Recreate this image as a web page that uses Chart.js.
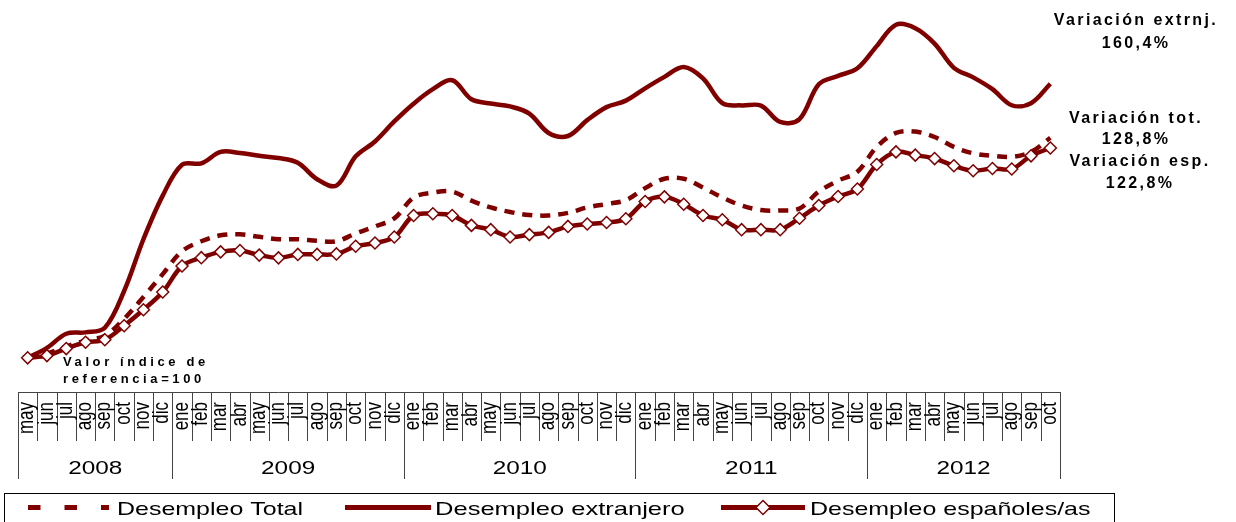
<!DOCTYPE html>
<html>
<head>
<meta charset="utf-8">
<script src="https://cdn.jsdelivr.net/npm/chart.js@4"></script>
<style>
  body { margin: 0; background: #fff; }
  #wrap { width: 1236px; height: 522px; }
</style>
</head>
<body>
<div id="wrap"><canvas id="paro" width="1236" height="522"></canvas></div>
<script>
// meses may 2008 - oct 2012
const monthLabels = [
  'may','jun','jul','ago','sep','oct','nov','dic',
  'ene','feb','mar','abr','may','jun','jul','ago','sep','oct','nov','dic',
  'ene','feb','mar','abr','may','jun','jul','ago','sep','oct','nov','dic',
  'ene','feb','mar','abr','may','jun','jul','ago','sep','oct','nov','dic',
  'ene','feb','mar','abr','may','jun','jul','ago','sep','oct'
];
const yearLabels = ['2008', '2009', '2010', '2011', '2012'];
const yearCounts = [8, 12, 12, 12, 10];

// indice base 100 = mayo 2008
const totalValues = [
  100, 102.5, 106.6, 110.1, 113.0, 122.8, 135.6, 149.0,
  162.4, 168.2, 171.7, 172.3, 170.8, 169.4, 169.4, 168.5, 168.2, 172.8, 176.9, 181.6,
  193.8, 196.7, 197.3, 192.0, 188.0, 185.3, 183.6, 183.3, 184.8, 188.0, 190.0, 192.3,
  199.3, 204.8, 204.8, 199.6, 193.8, 189.1, 186.5, 186.2, 187.4, 197.3, 203.7, 208.9,
  223.4, 231.6, 232.4, 229.2, 223.4, 219.7, 218.2, 217.6, 220.5, 228.8
];
const extranjeroValues = [
  100, 105.8, 114.1, 114.9, 117.6, 139.1, 169.4, 194.9,
  213.0, 213.8, 220.5, 219.9, 218.2, 216.9, 214.1, 204.5, 200.8, 217.9, 226.6, 238.3,
  248.7, 257.2, 262.4, 251.3, 248.8, 247.1, 242.9, 231.6, 229.8, 239.1, 246.7, 250.5,
  257.7, 264.4, 270.2, 263.5, 249.0, 247.7, 247.6, 238.0, 239.7, 260.1, 265.0, 269.4,
  282.4, 294.9, 292.9, 283.9, 269.7, 264.1, 257.2, 247.8, 249.0, 260.4
];
const espanolValues = [
  100, 101.3, 105.4, 109.1, 110.6, 118.8, 128.1, 138.5,
  153.7, 158.6, 162.0, 162.8, 160.1, 158.5, 160.5, 160.5, 160.8, 165.3, 167.2, 170.7,
  183.3, 184.3, 183.3, 177.5, 175.0, 170.7, 172.1, 173.4, 176.9, 178.3, 179.2, 181.4,
  191.5, 194.2, 189.9, 183.3, 180.8, 175.0, 175.0, 175.0, 181.7, 189.1, 194.4, 198.8,
  213.1, 220.5, 218.6, 216.6, 212.4, 209.5, 210.8, 210.5, 218.2, 222.8
];

const seriesNames = ['Desempleo Total', 'Desempleo extranjero', 'Desempleo españoles/as'];
const notes = [
  { lines: ['Variación extrnj.', '160,4%'], x: 1136, y: [25, 48] },
  { lines: ['Variación tot.', '128,8%'], x: 1136, y: [123, 144] },
  { lines: ['Variación esp.', '122,8%'], x: 1140, y: [166, 188] }
];

const RED = '#800000';
const FONT = "'Liberation Sans', Arial, sans-serif";

function stretchText(ctx, text, x, y, sx) {
  ctx.save();
  ctx.translate(x, y);
  ctx.scale(sx, 1);
  ctx.fillText(text, 0, 0);
  ctx.restore();
}

// eje de dos niveles (meses / años), notas y leyenda
const decoPlugin = {
  id: 'deco',
  afterDraw(chart) {
    const ctx = chart.ctx;
    const xs = chart.scales.x;
    const axisTop = chart.chartArea.bottom;
    const n = monthLabels.length;
    const step = (xs.right - xs.left) / n;

    ctx.save();
    ctx.strokeStyle = '#444';
    ctx.lineWidth = 1;
    ctx.beginPath();
    ctx.moveTo(xs.left, axisTop + 0.5);
    ctx.lineTo(xs.right, axisTop + 0.5);
    // separadores de meses
    for (let i = 0; i <= n; i++) {
      const bx = Math.round(xs.getPixelForValue(i) - step / 2) + 0.5;
      ctx.moveTo(bx, axisTop);
      ctx.lineTo(bx, axisTop + 49);
    }
    // separadores de años
    let idx = 0;
    const bounds = [0];
    yearCounts.forEach(c => { idx += c; bounds.push(idx); });
    bounds.forEach(b => {
      const bx = Math.round(xs.getPixelForValue(b) - step / 2) + 0.5;
      ctx.moveTo(bx, axisTop);
      ctx.lineTo(bx, axisTop + 87);
    });
    ctx.stroke();

    // etiquetas de meses (verticales)
    ctx.fillStyle = '#000';
    ctx.font = '17px ' + FONT;
    ctx.textAlign = 'right';
    ctx.textBaseline = 'middle';
    monthLabels.forEach((m, i) => {
      ctx.save();
      ctx.translate(xs.getPixelForValue(i) - 0.5, axisTop + 10);
      ctx.scale(1.3, 1);
      ctx.rotate(-Math.PI / 2);
      ctx.fillText(m, 0, 0);
      ctx.restore();
    });

    // etiquetas de años
    ctx.font = '19px ' + FONT;
    ctx.textAlign = 'center';
    ctx.textBaseline = 'alphabetic';
    yearLabels.forEach((yl, k) => {
      const a = xs.getPixelForValue(bounds[k]) - step / 2;
      const b = xs.getPixelForValue(bounds[k + 1]) - step / 2;
      stretchText(ctx, yl, (a + b) / 2, axisTop + 82, 1.28);
    });

    // notas
    ctx.font = 'bold 16px ' + FONT;
    ctx.letterSpacing = '2.4px';
    notes.forEach(nt => {
      nt.lines.forEach((t, j) => ctx.fillText(t, nt.x, nt.y[j]));
    });
    ctx.font = 'bold 13px ' + FONT;
    ctx.letterSpacing = '3.6px';
    ctx.textAlign = 'left';
    ctx.fillText('Valor índice de', 63, 366);
    ctx.fillText('referencia=100', 63, 383);
    ctx.letterSpacing = '0px';

    // leyenda
    const ly = 507.5;
    ctx.strokeStyle = '#000';
    ctx.lineWidth = 1;
    ctx.strokeRect(4.5, 493.5, 1110, 40);

    ctx.strokeStyle = RED;
    ctx.lineWidth = 5;
    ctx.setLineDash([12.5, 24]);
    ctx.beginPath(); ctx.moveTo(28, ly); ctx.lineTo(109, ly); ctx.stroke();
    ctx.setLineDash([]);
    ctx.beginPath(); ctx.moveTo(345, ly); ctx.lineTo(431, ly); ctx.stroke();
    ctx.beginPath(); ctx.moveTo(721, ly); ctx.lineTo(805, ly); ctx.stroke();
    ctx.fillStyle = '#fff';
    ctx.lineWidth = 1.5;
    ctx.beginPath();
    ctx.moveTo(763, ly - 7); ctx.lineTo(770, ly); ctx.lineTo(763, ly + 7); ctx.lineTo(756, ly);
    ctx.closePath(); ctx.fill(); ctx.stroke();

    ctx.fillStyle = '#000';
    ctx.font = '18.5px ' + FONT;
    stretchText(ctx, seriesNames[0], 117, 515, 1.35);
    stretchText(ctx, seriesNames[1], 435, 515, 1.38);
    stretchText(ctx, seriesNames[2], 810, 515, 1.35);
    ctx.restore();
  }
};

new Chart(document.getElementById('paro'), {
  type: 'line',
  data: {
    labels: monthLabels,
    datasets: [
      {
        label: seriesNames[0],
        data: totalValues,
        borderColor: RED,
        borderWidth: 4.5,
        borderDash: [10, 8],
        pointRadius: 0,
        tension: 0.35,
        order: 2
      },
      {
        label: seriesNames[1],
        data: extranjeroValues,
        borderColor: RED,
        borderWidth: 4.5,
        pointRadius: 0,
        tension: 0.35,
        order: 3
      },
      {
        label: seriesNames[2],
        data: espanolValues,
        borderColor: RED,
        borderWidth: 4.5,
        pointStyle: 'rectRot',
        pointRadius: 6,
        pointBorderWidth: 1.5,
        pointBackgroundColor: '#fff',
        pointBorderColor: RED,
        tension: 0.35,
        order: 1
      }
    ]
  },
  options: {
    responsive: false,
    animation: false,
    clip: false,
    layout: { padding: { left: 18, right: 176, top: 4.7, bottom: 130 } },
    plugins: { legend: { display: false }, tooltip: { enabled: false } },
    scales: {
      x: { display: false, offset: true },
      y: { display: false, min: 80, max: 305 }
    }
  },
  plugins: [decoPlugin]
});
</script>
</body>
</html>
